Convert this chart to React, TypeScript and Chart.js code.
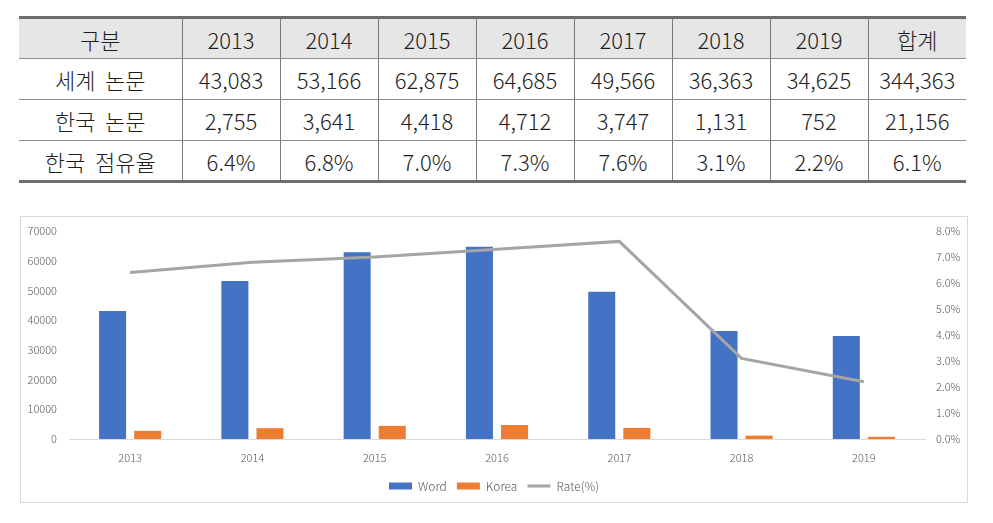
import React, { useEffect, useRef } from "react";
import { Chart, registerables } from "chart.js";

Chart.register(...registerables);

const years = ["2013", "2014", "2015", "2016", "2017", "2018", "2019"];
const worldPapers = [43083, 53166, 62875, 64685, 49566, 36363, 34625];
const koreaPapers = [2755, 3641, 4418, 4712, 3747, 1131, 752];
const koreaRate = [6.4, 6.8, 7.0, 7.3, 7.6, 3.1, 2.2];
const worldTotal = 344363;
const koreaTotal = 21156;
const rateTotal = 6.1;
const leftTicks = [0, 10000, 20000, 30000, 40000, 50000, 60000, 70000];
const rightTicks = [0, 1, 2, 3, 4, 5, 6, 7, 8];

const headerLabel = "구분";
const totalLabel = "합계";
const rowLabels = ["세계  논문", "한국  논문", "한국  점유율"];
const seriesNames = ["Word", "Korea", "Rate(%)"];

const FONT = "'Noto Sans CJK KR', 'Noto Sans', sans-serif";

const fmt = (n: number) => n.toLocaleString("en-US");

function DataTable() {
  const rows: string[][] = [
    [rowLabels[0], ...worldPapers.map(fmt), fmt(worldTotal)],
    [rowLabels[1], ...koreaPapers.map(fmt), fmt(koreaTotal)],
    [rowLabels[2], ...koreaRate.map((r) => r.toFixed(1) + "%"), rateTotal.toFixed(1) + "%"],
  ];
  const header = [headerLabel, ...years, totalLabel];
  const cellBase: React.CSSProperties = {
    padding: 0,
    textAlign: "center",
    verticalAlign: "middle",
    fontFamily: FONT,
    fontSize: 22,
    fontWeight: 300,
    color: "#1e1e1e",
    borderLeft: "1px solid #7a7a7a",
    borderRight: "1px solid #7a7a7a",
    whiteSpace: "pre",
    boxSizing: "border-box",
  };
  return (
    <table
      style={{
        position: "absolute",
        left: 19,
        top: 16,
        width: 947,
        borderCollapse: "collapse",
        tableLayout: "fixed",
        borderTop: "3px solid #6e6e6e",
        borderBottom: "3px solid #6e6e6e",
      }}
    >
      <colgroup>
        <col style={{ width: 163 }} />
        {header.slice(1).map((_, i) => (
          <col key={i} style={{ width: 98 }} />
        ))}
      </colgroup>
      <tbody>
        <tr style={{ height: 41 }}>
          {header.map((h, i) => (
            <td
              key={i}
              style={{
                ...cellBase,
                background: "#e7e6e6",
                borderBottom: "1px solid #8c8c8c",
                borderLeft: i === 0 ? "none" : cellBase.borderLeft,
                borderRight: i === header.length - 1 ? "none" : cellBase.borderRight,
              }}
            >
              {h}
            </td>
          ))}
        </tr>
        {rows.map((r, ri) => (
          <tr key={ri} style={{ height: 41 }}>
            {r.map((c, ci) => (
              <td
                key={ci}
                style={{
                  ...cellBase,
                  borderBottom: ri < rows.length - 1 ? "1px solid #8c8c8c" : "none",
                  borderLeft: ci === 0 ? "none" : cellBase.borderLeft,
                  borderRight: ci === r.length - 1 ? "none" : cellBase.borderRight,
                }}
              >
                {c}
              </td>
            ))}
          </tr>
        ))}
      </tbody>
    </table>
  );
}

function ComboChart() {
  const ref = useRef<HTMLCanvasElement | null>(null);
  useEffect(() => {
    if (!ref.current) return;
    const tickColor = "#595959";
    const chart = new Chart(ref.current, {
      type: "bar",
      data: {
        labels: years,
        datasets: [
          {
            type: "line",
            label: seriesNames[2],
            data: koreaRate,
            borderColor: "#a5a5a5",
            backgroundColor: "#a5a5a5",
            borderWidth: 3,
            pointRadius: 0,
            tension: 0,
            yAxisID: "y1",
            order: 0,
            pointStyle: "line",
          } as any,
          {
            type: "bar",
            label: seriesNames[0],
            data: worldPapers,
            backgroundColor: "#4472c4",
            yAxisID: "y",
            order: 1,
            categoryPercentage: 0.574,
            barPercentage: 0.77,
            pointStyle: "rect",
          } as any,
          {
            type: "bar",
            label: seriesNames[1],
            data: koreaPapers,
            backgroundColor: "#ed7d31",
            yAxisID: "y",
            order: 1,
            categoryPercentage: 0.574,
            barPercentage: 0.77,
            pointStyle: "rect",
          } as any,
        ],
      },
      options: {
        animation: false,
        responsive: false,
        maintainAspectRatio: false,
        layout: { padding: { top: 14, bottom: 0, left: 0, right: 0 } },
        plugins: {
          tooltip: { enabled: false },
          legend: {
            position: "bottom",
            labels: {
              usePointStyle: true,
              pointStyleWidth: 23,
              boxHeight: 7,
              padding: 10,
              color: tickColor,
              font: { family: FONT, size: 12, weight: 300 },
              sort: (a: any, b: any) => ((a.datasetIndex + 2) % 3) - ((b.datasetIndex + 2) % 3),
            },
          },
        },
        scales: {
          x: {
            grid: { display: false, drawTicks: false },
            border: { display: true, color: "#d9d9d9", width: 1 },
            ticks: { color: tickColor, font: { family: FONT, size: 11, weight: 300 }, padding: 12 },
            afterFit: (s: any) => {
              s.height = 31;
            },
          },
          y: {
            position: "left",
            min: 0,
            max: 70000,
            grid: { display: false, drawTicks: false },
            border: { display: false },
            afterBuildTicks: (s: any) => {
              s.ticks = leftTicks.map((v) => ({ value: v }));
            },
            ticks: {
              color: tickColor,
              font: { family: FONT, size: 11, weight: 300 },
              padding: 12,
              callback: (v: any) => String(v),
            },
            afterFit: (s: any) => {
              s.width = 48;
              s.paddingTop = 7;
              s.paddingBottom = 7;
            },
          },
          y1: {
            position: "right",
            min: 0,
            max: 8,
            grid: { display: false, drawTicks: false },
            border: { display: false },
            afterBuildTicks: (s: any) => {
              s.ticks = rightTicks.map((v) => ({ value: v }));
            },
            ticks: {
              color: tickColor,
              font: { family: FONT, size: 11, weight: 300 },
              padding: 11,
              callback: (v: any) => Number(v).toFixed(1) + "%",
            },
            afterFit: (s: any) => {
              s.width = 42;
              s.paddingTop = 7;
              s.paddingBottom = 7;
            },
          },
        },
      } as any,
    });
    return () => chart.destroy();
  }, []);
  return (
    <div
      style={{
        position: "absolute",
        left: 20,
        top: 216,
        width: 946,
        height: 285,
        border: "1px solid #d9d9d9",
        background: "#fff",
      }}
    >
      <canvas ref={ref} width={946} height={285} style={{ display: "block", width: 946, height: 285 }} />
    </div>
  );
}

export default function App() {
  return (
    <div style={{ position: "absolute", left: 0, top: 0, width: 993, height: 523, background: "#fff", overflow: "hidden" }}>
      <DataTable />
      <ComboChart />
    </div>
  );
}
